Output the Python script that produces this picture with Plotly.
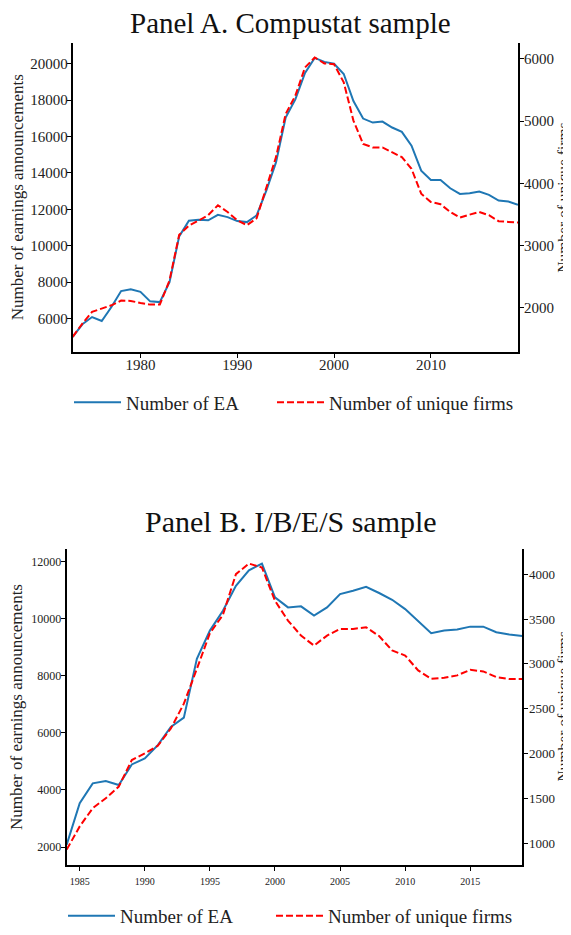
import plotly.graph_objects as go

# ---------------- Data ----------------
years_a = list(range(1973, 2020))
ea_a = [5000, 5690, 6090, 5870, 6640, 7515, 7620, 7475, 6950, 6910,
        8000, 10520, 11375, 11430, 11400, 11700, 11576, 11357, 11303, 11670,
        13036, 14583, 17043, 18044, 19500, 20323, 20104, 20000, 19440, 17956,
        16990, 16770, 16825, 16497, 16261, 15496, 14130, 13616, 13616, 13162,
        12850, 12886, 12978, 12796, 12490, 12436, 12253]
firms_a = [1536, 1749, 1936, 1989, 2042, 2117, 2112, 2080, 2053, 2053,
           2442, 3173, 3322, 3402, 3490, 3648, 3541, 3408, 3328, 3440,
           3914, 4421, 5114, 5408, 5861, 6021, 5925, 5912, 5621, 5008,
           4634, 4576, 4576, 4501, 4421, 4234, 3834, 3701, 3664, 3541,
           3450, 3498, 3541, 3488, 3392, 3381, 3370]

years_b = list(range(1984, 2020))
ea_b = [2084, 3535, 4232, 4316, 4176, 4895, 5104, 5572, 6210, 6534,
        8592, 9583, 10280, 11153, 11697, 11930, 10745, 10396, 10431, 10106,
        10396, 10860, 10978, 11118, 10900, 10663, 10337, 9908, 9489, 9583,
        9618, 9722, 9722, 9524, 9443, 9397]
firms_b = [927, 1186, 1389, 1500, 1630, 1926, 2000, 2085, 2278, 2555,
           2944, 3341, 3546, 4000, 4119, 4074, 3704, 3482, 3315, 3204,
           3315, 3389, 3389, 3408, 3310, 3149, 3093, 2926, 2833, 2844,
           2871, 2933, 2915, 2852, 2830, 2830]

titles = ["Panel A. Compustat sample", "Panel B. I/B/E/S sample"]
left_label = "Number of earnings announcements"
right_label = "Number of unique firms"
series_names = ["Number of EA", "Number of unique firms"]

ticks_a_x = [1980, 1990, 2000, 2010]
ticks_a_left = [6000, 8000, 10000, 12000, 14000, 16000, 18000, 20000]
ticks_a_right = [2000, 3000, 4000, 5000, 6000]
ticks_b_x = [1985, 1990, 1995, 2000, 2005, 2010, 2015]
ticks_b_left = [2000, 4000, 6000, 8000, 10000, 12000]
ticks_b_right = [1000, 1500, 2000, 2500, 3000, 3500, 4000]

# ---------------- Style ----------------
# The page body has an 8px default margin; the figure is sized so that the
# visible window (571x935) matches the reference layout.
OFF = 8
W, H = 571 - OFF, 935 - OFF
FONT = "Liberation Serif"
BLUE = "#1f77b4"
RED = "#ff0000"
TXT = "#222222"
DASH = "7px,3px"


def px_x(p):
    return (p - OFF) / W


def px_y(p):
    return 1 - (p - OFF) / H


fig = go.Figure()

fig.add_trace(go.Scatter(x=years_a, y=ea_a, name=series_names[0], mode="lines",
                         line=dict(color=BLUE, width=2), xaxis="x", yaxis="y",
                         legend="legend", showlegend=True))
fig.add_trace(go.Scatter(x=years_a, y=firms_a, name=series_names[1], mode="lines",
                         line=dict(color=RED, width=2, dash=DASH), xaxis="x", yaxis="y2",
                         legend="legend2", showlegend=True))
fig.add_trace(go.Scatter(x=years_b, y=ea_b, name=series_names[0], mode="lines",
                         line=dict(color=BLUE, width=2), xaxis="x2", yaxis="y3",
                         legend="legend3", showlegend=True))
fig.add_trace(go.Scatter(x=years_b, y=firms_b, name=series_names[1], mode="lines",
                         line=dict(color=RED, width=2, dash=DASH), xaxis="x2", yaxis="y4",
                         legend="legend4", showlegend=True))

axis_common = dict(showline=True, linecolor="black", linewidth=2, ticks="outside",
                   ticklen=4, tickwidth=1.3, tickcolor="black", showgrid=False,
                   zeroline=False, mirror=False, automargin=False, tickformat="d")

dom_a_x = [px_x(72.7), px_x(518)]
dom_a_y = [px_y(353), px_y(43)]
dom_b_x = [px_x(66.7), px_x(522.3)]
dom_b_y = [px_y(869), px_y(551)]

annotations = [
    dict(text=titles[0], x=px_x(291), y=px_y(23), font=dict(size=29, color="#111")),
    dict(text=titles[1], x=px_x(291), y=px_y(524), font=dict(size=30, color="#111")),
    dict(text=left_label, x=px_x(17), y=px_y(198), textangle=-90, font=dict(size=17)),
    dict(text=right_label, x=px_x(562.5), y=px_y(199), textangle=-90, font=dict(size=15.5)),
    dict(text=left_label, x=px_x(17), y=px_y(710), textangle=-90, font=dict(size=17)),
    dict(text=right_label, x=px_x(562.5), y=px_y(710), textangle=-90, font=dict(size=15.5)),
]
for a in annotations:
    a.update(xref="paper", yref="paper", showarrow=False, xanchor="center", yanchor="middle")
    a["font"].setdefault("color", TXT)
    a["font"]["family"] = FONT


def leg(xp, yp):
    return dict(orientation="h", x=px_x(xp), y=px_y(yp), xanchor="left", yanchor="middle",
                font=dict(size=19), itemwidth=47, bgcolor="rgba(0,0,0,0)", visible=True)


fig.update_layout(
    width=W, height=H,
    showlegend=True,
    margin=dict(l=0, r=0, t=0, b=0),
    paper_bgcolor="white", plot_bgcolor="white",
    font=dict(family=FONT, color=TXT),
    xaxis=dict(domain=dom_a_x, anchor="y", range=[1973, 2019], tickvals=ticks_a_x,
               tickfont=dict(size=15), ticklabelstandoff=-6, **axis_common),
    yaxis=dict(domain=dom_a_y, anchor="x", range=[4196, 21148], tickvals=ticks_a_left,
               tickfont=dict(size=15), ticklabelstandoff=-4, **axis_common),
    yaxis2=dict(overlaying="y", side="right", anchor="x", range=[1300, 6256],
                tickvals=ticks_a_right, tickfont=dict(size=15), ticklabelstandoff=-3,
                **axis_common),
    xaxis2=dict(domain=dom_b_x, anchor="y3", range=[1984, 2019], tickvals=ticks_b_x,
                tickfont=dict(size=10), ticklabelstandoff=2, **axis_common),
    yaxis3=dict(domain=dom_b_y, anchor="x2", range=[1362, 12453], tickvals=ticks_b_left,
                tickfont=dict(size=12), ticklabelstandoff=-3, **axis_common),
    yaxis4=dict(overlaying="y3", side="right", anchor="x2", range=[752, 4285],
                tickvals=ticks_b_right, tickfont=dict(size=13), ticklabelstandoff=-2,
                **axis_common),
    legend=leg(69, 404),
    legend2=leg(272, 404),
    legend3=leg(63, 920),
    legend4=leg(271, 920),
    annotations=annotations,
)

fig.write_html("out.html")
